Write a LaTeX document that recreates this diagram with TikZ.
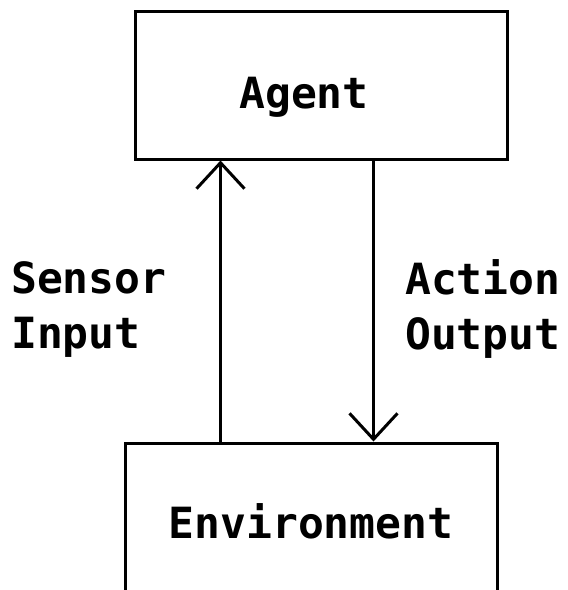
\documentclass[tikz,border=0pt]{standalone}
\usepackage{fontspec}
\setmonofont{DejaVu Sans Mono}
\usetikzlibrary{arrows.meta}
\begin{document}
\begin{tikzpicture}[x=1pt,y=-1pt,
  box/.style={draw=black, line width=3pt, inner sep=0pt, minimum width=372pt},
  lbl/.style={font=\fontsize{43}{55}\selectfont\ttfamily\bfseries, inner sep=0pt, align=left},
  arr/.style={line width=3pt, -{Straight Barb[length=26pt,width=48pt,line width=3pt]}}]
\clip (0,0) rectangle (568,590);
\fill[white] (0,0) rectangle (568,590);
\node[box, minimum height=148pt] (agent) at (321,85) {};
\node[box, minimum height=190pt] (env) at (311,538) {};
\node[lbl, anchor=base] (agentlbl) at (304,108) {Agent};
\node[lbl, anchor=base] (envlbl) at (311,538) {Environment};
\node[lbl, anchor=base west] (sensorlbl) at (11,348) {Sensor\\Input};
\node[lbl, anchor=base west] (actionlbl) at (405,349) {Action\\Output};
\coordinate (sbot) at ([xshift=97pt]env.north west);
\coordinate (stop) at (sbot |- agent.south);
\coordinate (atop) at ([xshift=240pt]agent.south west);
\coordinate (abot) at (atop |- env.north);
\draw[arr] (sbot) -- (stop);
\draw[arr] (atop) -- (abot);
\end{tikzpicture}
\end{document}
